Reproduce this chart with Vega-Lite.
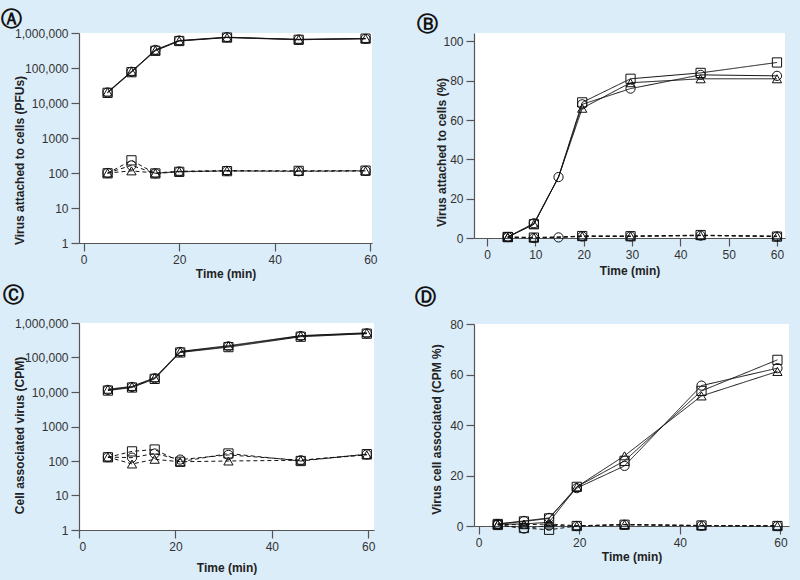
{
  "$schema": "https://vega.github.io/schema/vega-lite/v6.json",
  "background": "#dcedfa",
  "padding": {"left": 1, "top": 9, "right": 14, "bottom": 27},
  "config": {
    "view": {"fill": "white", "stroke": null},
    "font": "Liberation Sans",
    "axis": {
      "grid": false, "domainColor": "#555", "tickColor": "#555", "domainWidth": 1.2, "tickWidth": 1.2,
      "tickSize": 8, "labelFontSize": 12, "labelColor": "#333", "labelFont": "Liberation Sans",
      "labelPadding": 3, "titleFontSize": 12, "titleFontWeight": "bold", "titleColor": "#222",
      "titleFont": "Liberation Sans"
    },
    "title": {"font": "DejaVu Sans", "fontSize": 21, "fontWeight": "bold", "color": "#111", "anchor": "start", "frame": "bounds"}
  },
  "datasets": {
    "A": [
      {"g":"top","m":"circle","t":5,"v":20000},{"g":"top","m":"circle","t":10,"v":78000},{"g":"top","m":"circle","t":15,"v":330000},{"g":"top","m":"circle","t":20,"v":610000},{"g":"top","m":"circle","t":30,"v":760000},{"g":"top","m":"circle","t":45,"v":650000},{"g":"top","m":"circle","t":59,"v":680000},
      {"g":"top","m":"square","t":5,"v":19500},{"g":"top","m":"square","t":10,"v":76000},{"g":"top","m":"square","t":15,"v":310000},{"g":"top","m":"square","t":20,"v":590000},{"g":"top","m":"square","t":30,"v":740000},{"g":"top","m":"square","t":45,"v":640000},{"g":"top","m":"square","t":59,"v":690000},
      {"g":"top","m":"triangle","t":5,"v":20500},{"g":"top","m":"triangle","t":10,"v":80000},{"g":"top","m":"triangle","t":15,"v":320000},{"g":"top","m":"triangle","t":20,"v":600000},{"g":"top","m":"triangle","t":30,"v":750000},{"g":"top","m":"triangle","t":45,"v":660000},{"g":"top","m":"triangle","t":59,"v":700000},
      {"g":"bottom","m":"circle","t":5,"v":100},{"g":"bottom","m":"circle","t":10,"v":165},{"g":"bottom","m":"circle","t":15,"v":98},{"g":"bottom","m":"circle","t":20,"v":110},{"g":"bottom","m":"circle","t":30,"v":115},{"g":"bottom","m":"circle","t":45,"v":112},{"g":"bottom","m":"circle","t":59,"v":115},
      {"g":"bottom","m":"square","t":5,"v":98},{"g":"bottom","m":"square","t":10,"v":230},{"g":"bottom","m":"square","t":15,"v":97},{"g":"bottom","m":"square","t":20,"v":108},{"g":"bottom","m":"square","t":30,"v":113},{"g":"bottom","m":"square","t":45,"v":115},{"g":"bottom","m":"square","t":59,"v":117},
      {"g":"bottom","m":"triangle","t":5,"v":100},{"g":"bottom","m":"triangle","t":10,"v":115},{"g":"bottom","m":"triangle","t":15,"v":100},{"g":"bottom","m":"triangle","t":20,"v":112},{"g":"bottom","m":"triangle","t":30,"v":118},{"g":"bottom","m":"triangle","t":45,"v":113},{"g":"bottom","m":"triangle","t":59,"v":114}
    ],
    "B": [
      {"g":"top","m":"circle","t":4.3,"v":0.5},{"g":"top","m":"circle","t":9.7,"v":7.5},{"g":"top","m":"circle","t":14.8,"v":31},{"g":"top","m":"circle","t":19.7,"v":68},{"g":"top","m":"circle","t":29.7,"v":76},{"g":"top","m":"circle","t":44.2,"v":83},{"g":"top","m":"circle","t":60,"v":82.5},
      {"g":"top","m":"square","t":4.3,"v":0.5},{"g":"top","m":"square","t":9.7,"v":7},{"g":"top","m":"square","t":14.8,"v":31},{"g":"top","m":"square","t":19.7,"v":69},{"g":"top","m":"square","t":29.7,"v":81},{"g":"top","m":"square","t":44.2,"v":84},{"g":"top","m":"square","t":60,"v":89.3},
      {"g":"top","m":"triangle","t":4.3,"v":0.5},{"g":"top","m":"triangle","t":9.7,"v":7},{"g":"top","m":"triangle","t":14.8,"v":31},{"g":"top","m":"triangle","t":19.7,"v":66},{"g":"top","m":"triangle","t":29.7,"v":79},{"g":"top","m":"triangle","t":44.2,"v":81},{"g":"top","m":"triangle","t":60,"v":81},
      {"g":"bottom","m":"circle","t":4.3,"v":0.5},{"g":"bottom","m":"circle","t":9.7,"v":0},{"g":"bottom","m":"circle","t":14.8,"v":0.3},{"g":"bottom","m":"circle","t":19.7,"v":0.8},{"g":"bottom","m":"circle","t":29.7,"v":0.8},{"g":"bottom","m":"circle","t":44.2,"v":1.2},{"g":"bottom","m":"circle","t":60,"v":0.8},
      {"g":"bottom","m":"square","t":4.3,"v":0.5},{"g":"bottom","m":"square","t":9.7,"v":0.2},{"g":"bottom","m":"square","t":14.8,"v":0.4},{"g":"bottom","m":"square","t":19.7,"v":1},{"g":"bottom","m":"square","t":29.7,"v":0.9},{"g":"bottom","m":"square","t":44.2,"v":1.5},{"g":"bottom","m":"square","t":60,"v":0.7},
      {"g":"bottom","m":"triangle","t":4.3,"v":0.4},{"g":"bottom","m":"triangle","t":9.7,"v":0.3},{"g":"bottom","m":"triangle","t":14.8,"v":0.5},{"g":"bottom","m":"triangle","t":19.7,"v":1},{"g":"bottom","m":"triangle","t":29.7,"v":1},{"g":"bottom","m":"triangle","t":44.2,"v":1.3},{"g":"bottom","m":"triangle","t":60,"v":1}
    ],
    "C": [
      {"g":"top","m":"circle","t":6,"v":11500},{"g":"top","m":"circle","t":11,"v":14000},{"g":"top","m":"circle","t":15.7,"v":25000},{"g":"top","m":"circle","t":21,"v":145000},{"g":"top","m":"circle","t":31,"v":210000},{"g":"top","m":"circle","t":46,"v":420000},{"g":"top","m":"circle","t":59.7,"v":500000},
      {"g":"top","m":"square","t":6,"v":11000},{"g":"top","m":"square","t":11,"v":13500},{"g":"top","m":"square","t":15.7,"v":24000},{"g":"top","m":"square","t":21,"v":140000},{"g":"top","m":"square","t":31,"v":200000},{"g":"top","m":"square","t":46,"v":400000},{"g":"top","m":"square","t":59.7,"v":490000},
      {"g":"top","m":"triangle","t":6,"v":12000},{"g":"top","m":"triangle","t":11,"v":14500},{"g":"top","m":"triangle","t":15.7,"v":26000},{"g":"top","m":"triangle","t":21,"v":150000},{"g":"top","m":"triangle","t":31,"v":220000},{"g":"top","m":"triangle","t":46,"v":430000},{"g":"top","m":"triangle","t":59.7,"v":520000},
      {"g":"bottom","m":"circle","t":6,"v":130},{"g":"bottom","m":"circle","t":11,"v":125},{"g":"bottom","m":"circle","t":15.7,"v":165},{"g":"bottom","m":"circle","t":21,"v":110},{"g":"bottom","m":"circle","t":31,"v":150},{"g":"bottom","m":"circle","t":46,"v":105},{"g":"bottom","m":"circle","t":59.7,"v":155},
      {"g":"bottom","m":"square","t":6,"v":128},{"g":"bottom","m":"square","t":11,"v":190},{"g":"bottom","m":"square","t":15.7,"v":215},{"g":"bottom","m":"square","t":21,"v":95},{"g":"bottom","m":"square","t":31,"v":165},{"g":"bottom","m":"square","t":46,"v":100},{"g":"bottom","m":"square","t":59.7,"v":158},
      {"g":"bottom","m":"triangle","t":6,"v":130},{"g":"bottom","m":"triangle","t":11,"v":82},{"g":"bottom","m":"triangle","t":15.7,"v":112},{"g":"bottom","m":"triangle","t":21,"v":95},{"g":"bottom","m":"triangle","t":31,"v":100},{"g":"bottom","m":"triangle","t":46,"v":105},{"g":"bottom","m":"triangle","t":59.7,"v":150}
    ],
    "D": [
      {"g":"top","m":"circle","t":3.8,"v":0.8},{"g":"top","m":"circle","t":9,"v":2},{"g":"top","m":"circle","t":14,"v":3.2},{"g":"top","m":"circle","t":19.5,"v":15},{"g":"top","m":"circle","t":29,"v":23.8},{"g":"top","m":"circle","t":44.3,"v":55.6},{"g":"top","m":"circle","t":59.4,"v":62.5},
      {"g":"top","m":"square","t":3.8,"v":0.8},{"g":"top","m":"square","t":9,"v":1.8},{"g":"top","m":"square","t":14,"v":3},{"g":"top","m":"square","t":19.5,"v":15.5},{"g":"top","m":"square","t":29,"v":25.8},{"g":"top","m":"square","t":44.3,"v":53.5},{"g":"top","m":"square","t":59.4,"v":65.8},
      {"g":"top","m":"triangle","t":3.8,"v":0.7},{"g":"top","m":"triangle","t":9,"v":0.8},{"g":"top","m":"triangle","t":14,"v":1.5},{"g":"top","m":"triangle","t":19.5,"v":15.5},{"g":"top","m":"triangle","t":29,"v":27.8},{"g":"top","m":"triangle","t":44.3,"v":51.5},{"g":"top","m":"triangle","t":59.4,"v":61.2},
      {"g":"bottom","m":"circle","t":3.8,"v":0.5},{"g":"bottom","m":"circle","t":9,"v":-1},{"g":"bottom","m":"circle","t":14,"v":0.2},{"g":"bottom","m":"circle","t":19.5,"v":0},{"g":"bottom","m":"circle","t":29,"v":0.5},{"g":"bottom","m":"circle","t":44.3,"v":0.1},{"g":"bottom","m":"circle","t":59.4,"v":0},
      {"g":"bottom","m":"square","t":3.8,"v":0.4},{"g":"bottom","m":"square","t":9,"v":-0.8},{"g":"bottom","m":"square","t":14,"v":-1.5},{"g":"bottom","m":"square","t":19.5,"v":0},{"g":"bottom","m":"square","t":29,"v":0.5},{"g":"bottom","m":"square","t":44.3,"v":0.2},{"g":"bottom","m":"square","t":59.4,"v":0},
      {"g":"bottom","m":"triangle","t":3.8,"v":0.6},{"g":"bottom","m":"triangle","t":9,"v":0.5},{"g":"bottom","m":"triangle","t":14,"v":0.8},{"g":"bottom","m":"triangle","t":19.5,"v":0.1},{"g":"bottom","m":"triangle","t":29,"v":0.6},{"g":"bottom","m":"triangle","t":44.3,"v":0.2},{"g":"bottom","m":"triangle","t":59.4,"v":0.1}
    ]
  },
  "spacing": 36,
  "hconcat": [
    {
      "spacing": 6,
      "vconcat": [
        {
          "title": {"text": "Ⓐ", "dx": -12, "offset": -3},
          "width": 293, "height": 210,
          "data": {"name": "A"},
          "encoding": {
            "x": {"field": "t", "type": "quantitative", "scale": {"domain": [-0.98, 60.35], "nice": false, "zero": false},
                  "axis": {"title": "Time (min)", "values": [0, 20, 40, 60], "titleY": 25, "titleBaseline": "top"}},
            "y": {"field": "v", "type": "quantitative", "scale": {"type": "log", "domain": [1, 1000000], "nice": false},
                  "axis": {"title": "Virus attached to cells (PFUs)", "values": [1, 10, 100, 1000, 10000, 100000, 1000000],
                           "labelExpr": "datum.value >= 10000 ? format(datum.value, ',') : format(datum.value, 'd')",
                           "titleX": -53, "titleY": 127, "titleAngle": 270, "titleBaseline": "bottom", "titleAlign": "center"}}
          },
          "layer": [
            {"mark": {"type": "line", "strokeWidth": 1, "color": "#111"},
             "encoding": {"detail": [{"field": "g"}, {"field": "m"}],
                          "strokeDash": {"field": "g", "type": "nominal", "scale": {"domain": ["top", "bottom"], "range": [[1, 0], [4, 3]]}, "legend": null}}},
            {"mark": {"type": "point", "filled": false, "color": "#111", "strokeWidth": 1, "size": 85, "opacity": 1},
             "encoding": {"shape": {"field": "m", "type": "nominal", "scale": {"domain": ["circle", "square", "triangle"], "range": ["circle", "square", "triangle-up"]}, "legend": null}}}
          ]
        },
        {
          "title": {"text": "Ⓒ", "dx": -10, "offset": 11},
          "width": 295, "height": 207,
          "data": {"name": "C"},
          "encoding": {
            "x": {"field": "t", "type": "quantitative", "scale": {"domain": [0, 61.2], "nice": false, "zero": false},
                  "axis": {"title": "Time (min)", "values": [0, 20, 40, 60], "titleY": 32, "titleBaseline": "top"}},
            "y": {"field": "v", "type": "quantitative", "scale": {"type": "log", "domain": [1, 1000000], "nice": false},
                  "axis": {"title": "Cell associated virus (CPM)", "values": [1, 10, 100, 1000, 10000, 100000, 1000000],
                           "labelExpr": "datum.value >= 10000 ? format(datum.value, ',') : format(datum.value, 'd')",
                           "titleX": -53, "titleY": 112, "titleAngle": 270, "titleBaseline": "bottom", "titleAlign": "center"}}
          },
          "layer": [
            {"mark": {"type": "line", "strokeWidth": 1, "color": "#111"},
             "encoding": {"detail": [{"field": "g"}, {"field": "m"}],
                          "strokeDash": {"field": "g", "type": "nominal", "scale": {"domain": ["top", "bottom"], "range": [[1, 0], [4, 3]]}, "legend": null}}},
            {"mark": {"type": "point", "filled": false, "color": "#111", "strokeWidth": 1, "size": 85, "opacity": 1},
             "encoding": {"shape": {"field": "m", "type": "nominal", "scale": {"domain": ["circle", "square", "triangle"], "range": ["circle", "square", "triangle-up"]}, "legend": null}}}
          ]
        }
      ]
    },
    {
      "spacing": 11,
      "vconcat": [
        {
          "title": {"text": "Ⓑ", "dx": -18, "offset": -2},
          "width": 311, "height": 205,
          "data": {"name": "B"},
          "encoding": {
            "x": {"field": "t", "type": "quantitative", "scale": {"domain": [-2.69, 61.66], "nice": false, "zero": false},
                  "axis": {"title": "Time (min)", "values": [0, 10, 20, 30, 40, 50, 60], "titleY": 27, "titleBaseline": "top"}},
            "y": {"field": "v", "type": "quantitative", "scale": {"domain": [0, 104.3], "nice": false},
                  "axis": {"title": "Virus attached to cells (%)", "values": [0, 20, 40, 60, 80, 100],
                           "titleX": -26, "titleY": 119, "titleAngle": 270, "titleBaseline": "bottom", "titleAlign": "center"}}
          },
          "layer": [
            {"mark": {"type": "line", "strokeWidth": 1, "color": "#111"},
             "encoding": {"detail": [{"field": "g"}, {"field": "m"}],
                          "strokeDash": {"field": "g", "type": "nominal", "scale": {"domain": ["top", "bottom"], "range": [[1, 0], [4, 3]]}, "legend": null}}},
            {"transform": [{"filter": "datum.t != 14.8 || datum.m == 'circle'"}],
             "mark": {"type": "point", "filled": false, "color": "#111", "strokeWidth": 1, "size": 85, "opacity": 1},
             "encoding": {"shape": {"field": "m", "type": "nominal", "scale": {"domain": ["circle", "square", "triangle"], "range": ["circle", "square", "triangle-up"]}, "legend": null}}}
          ]
        },
        {
          "title": {"text": "Ⓓ", "dx": -15, "offset": 10},
          "width": 315, "height": 202,
          "data": {"name": "D"},
          "encoding": {
            "x": {"field": "t", "type": "quantitative", "scale": {"domain": [-0.93, 61.7], "nice": false, "zero": false},
                  "axis": {"title": "Time (min)", "values": [0, 20, 40, 60], "titleY": 25, "titleBaseline": "top"}},
            "y": {"field": "v", "type": "quantitative", "scale": {"domain": [0, 80], "nice": false},
                  "axis": {"title": "Virus cell associated (CPM %)", "values": [0, 20, 40, 60, 80],
                           "titleX": -31, "titleY": 105, "titleAngle": 270, "titleBaseline": "bottom", "titleAlign": "center"}}
          },
          "layer": [
            {"mark": {"type": "line", "strokeWidth": 1, "color": "#111"},
             "encoding": {"detail": [{"field": "g"}, {"field": "m"}],
                          "strokeDash": {"field": "g", "type": "nominal", "scale": {"domain": ["top", "bottom"], "range": [[1, 0], [4, 3]]}, "legend": null}}},
            {"mark": {"type": "point", "filled": false, "color": "#111", "strokeWidth": 1, "size": 85, "opacity": 1},
             "encoding": {"shape": {"field": "m", "type": "nominal", "scale": {"domain": ["circle", "square", "triangle"], "range": ["circle", "square", "triangle-up"]}, "legend": null}}}
          ]
        }
      ]
    }
  ]
}
